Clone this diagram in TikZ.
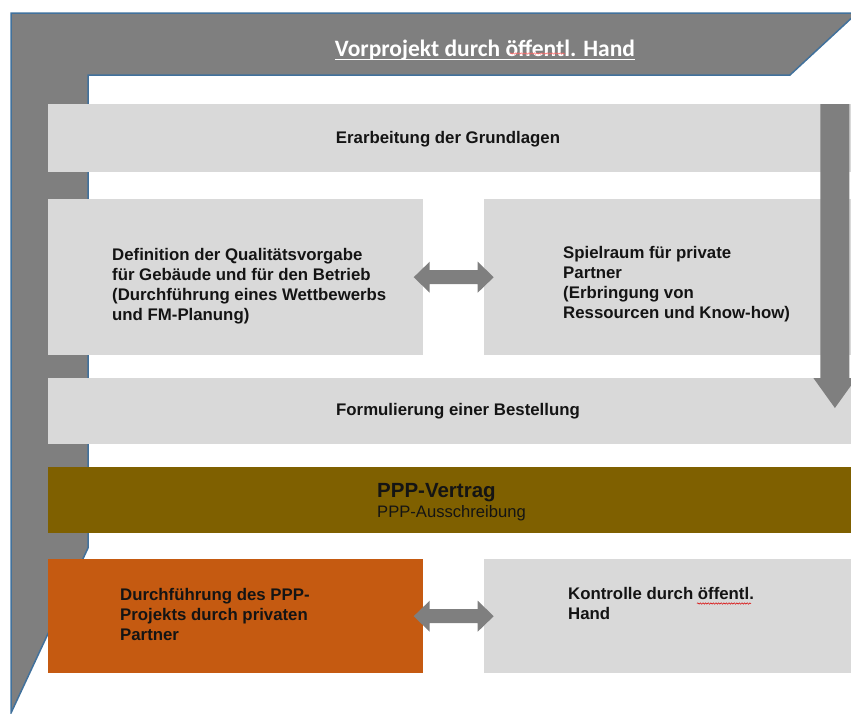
\documentclass[tikz,border=0pt]{standalone}
\usepackage{fontspec}
\setmainfont{Liberation Sans}
\newfontfamily\headfont{Carlito}
\usetikzlibrary{calc,decorations.pathmorphing}
\definecolor{framegray}{HTML}{7F7F7F}
\definecolor{frameblue}{HTML}{41719C}
\definecolor{boxgray}{HTML}{D9D9D9}
\definecolor{contractbrown}{HTML}{7F6000}
\definecolor{executionorange}{HTML}{C55A11}
\definecolor{inkblack}{HTML}{141414}
% left-aligned block of lines whose baseline is the first line
\newcommand\textlines[1]{\begin{tabular}[t]{@{}l@{}}#1\end{tabular}}
\begin{document}
\begin{tikzpicture}[x=1pt,y=-1pt,
  panel/.style={fill=boxgray, draw=none, inner sep=0pt, anchor=north west},
  body/.style={font=\fontsize{16.8}{20.3}\selectfont\bfseries, text=inkblack, inner sep=0pt},
  blockarrow/.style={fill=framegray, draw=none},
  spellmark/.style={draw=red!85!black, line width=0.5pt, decorate,
    decoration={snake, amplitude=0.7pt, segment length=2.6pt}}]
\useasboundingbox (0,0) rectangle (851,713);
\clip (0,0) rectangle (851,713);

% L-shaped frame of the public preliminary project
\filldraw[fill=framegray, draw=frameblue, line width=1.5pt, line join=miter]
  (11,13) -- (857,13) -- (790,75) -- (88,75) -- (88,548) -- (11,713) -- cycle;
\node[font=\headfont\fontsize{23.5}{26}\selectfont\bfseries, text=white, inner sep=0pt,
  anchor=base] (title) at (485,56) {Vorprojekt durch öffentl. Hand};
\draw[white, line width=1.8pt] ($(title.base west)+(0,3.5)$) -- ($(title.base east)+(0,3.5)$);
\draw[spellmark, red!60!white] (510,53.5) -- (565,53.5);

% panels
\node[panel, minimum width=803pt, minimum height=68pt]  (erarb)   at (48,104) {};
\node[panel, minimum width=375pt, minimum height=156pt] (defin)   at (48,199) {};
\node[panel, minimum width=367pt, minimum height=156pt] (spiel)   at (484,199) {};
\node[panel, minimum width=803pt, minimum height=66pt]  (bestell) at (48,378) {};
\node[panel, fill=contractbrown, minimum width=803pt, minimum height=66pt] (vertrag) at (48,467) {};
\node[panel, fill=executionorange, minimum width=375pt, minimum height=114pt] (durch) at (48,559) {};
\node[panel, minimum width=367pt, minimum height=114pt] (kontr)   at (484,559) {};

% panel texts
\node[body, anchor=base] (erarbT) at (448,143) {Erarbeitung der Grundlagen};
\node[body, anchor=base west] (definT) at (112,260) {\textlines{Definition der Qualitätsvorgabe\\
  für Gebäude und für den Betrieb\\ (Durchführung eines Wettbewerbs\\ und FM-Planung)}};
\node[body, anchor=base west] (spielT) at (563,258) {\textlines{Spielraum für private\\
  Partner\\ (Erbringung von\\ Ressourcen und Know-how)}};
\node[body, anchor=base] (bestellT) at (458,415) {Formulierung einer Bestellung};
\node[font=\fontsize{20.5}{24}\selectfont\bfseries, text=inkblack, inner sep=0pt,
  anchor=base west] (vertragT) at (377,497) {PPP-Vertrag};
\node[font=\fontsize{16.6}{20}\selectfont, text=inkblack, inner sep=0pt,
  anchor=base west] (ausschrT) at (377,517) {PPP-Ausschreibung};
\node[body, anchor=base west] (durchT) at (120,600) {\textlines{Durchführung des PPP-\\
  Projekts durch privaten\\ Partner}};
\node[body, anchor=base west] (kontrT) at (568,599) {\textlines{Kontrolle durch öffentl.\\ Hand}};
\draw[spellmark] (697,603.5) -- (751,603.5);

% flow arrow down the right side
\fill[blockarrow] ($(erarb.north east)+(-31,0)$) -- ++(29,0) -- ++(0,274) -- ++(7,0)
  -- ++(-21.5,30) -- ++(-21.5,-30) -- ++(7,0) -- cycle;

% double arrows between the paired panels
\coordinate (link1) at ($(defin.east)!0.5!(spiel.west)$);
\coordinate (link2) at ($(durch.east)!0.5!(kontr.west)$);
\foreach \c in {link1,link2}
  \fill[blockarrow] (\c) ++(-40,0) -- ++(16,-15.5) -- ++(0,8.5) -- ++(48,0) -- ++(0,-8.5)
    -- ++(16,15.5) -- ++(-16,15.5) -- ++(0,-8.5) -- ++(-48,0) -- ++(0,8.5) -- cycle;
\end{tikzpicture}
\end{document}
